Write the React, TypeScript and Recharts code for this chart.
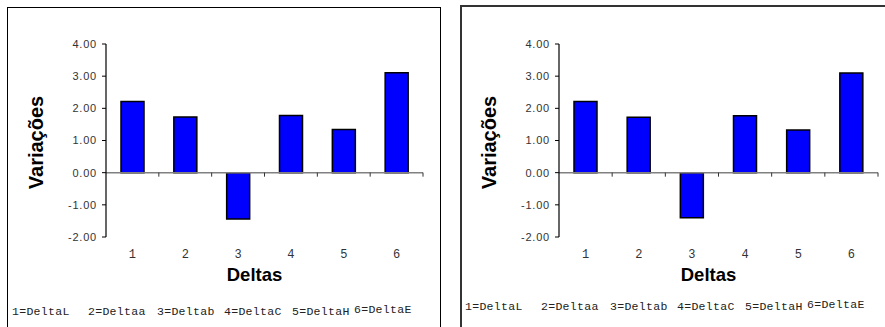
import { BarChart, Bar, XAxis, YAxis, ReferenceLine } from "recharts";

const categories = ["1", "2", "3", "4", "5", "6"];
const leftValues = [2.21, 1.73, -1.44, 1.78, 1.34, 3.11];
const rightValues = [2.21, 1.72, -1.4, 1.77, 1.33, 3.1];
const yTicks = [-2, -1, 0, 1, 2, 3, 4];
const footerLabels = ["1=DeltaL", "2=Deltaa", "3=Deltab", "4=DeltaC", "5=DeltaH", "6=DeltaE"];

const MONO = "'Liberation Mono', 'Courier New', monospace";
const SANS = "'Liberation Sans', Arial, sans-serif";

// offsets of each footer entry from the frame's left edge
const footerX = [5, 81, 150, 217, 285, 347];

function ZeroAxis(props: any) {
  const { x1, y1, x2 } = props;
  const n = categories.length;
  const step = (x2 - x1) / n;
  return (
    <g>
      <line x1={x1} y1={y1} x2={x2} y2={y1} stroke="#808080" strokeWidth={1.5} />
      {categories.map((_, i) => (
        <line key={i} x1={x1 + step * (i + 1)} y1={y1} x2={x1 + step * (i + 1)} y2={y1 + 4} stroke="#333" strokeWidth={1} />
      ))}
    </g>
  );
}

function YTitle(props: any) {
  const { viewBox } = props;
  const x = viewBox.x + viewBox.width - 70;
  const y = viewBox.y + viewBox.height / 2 + 2;
  return (
    <text x={x} y={y} transform={`rotate(-90, ${x}, ${y})`} textAnchor="middle" dominantBaseline="central" fontFamily={SANS} fontWeight="bold" fontSize={20} fill="#000">
      Variações
    </text>
  );
}

interface PanelProps {
  values: number[];
  left: number;
  width: number;
  marginLeft: number;
  marginRight: number;
  frame: { left: number; top: number; width: number; border: string };
  footerTop: number;
}

function Panel({ values, left, width, marginLeft, marginRight, frame, footerTop }: PanelProps) {
  const data = categories.map((c, i) => ({ name: c, value: values[i] }));
  return (
    <>
      <div
        style={{
          position: "absolute",
          left: frame.left,
          top: frame.top,
          width: frame.width,
          height: 400,
          border: frame.border,
          boxSizing: "border-box",
        }}
      />
      <div style={{ position: "absolute", left, top: 0 }}>
        <BarChart width={width} height={327} data={data} margin={{ top: 44, right: marginRight, left: marginLeft, bottom: 60 }}>
          <YAxis
            width={80}
            domain={[-2, 4]}
            ticks={yTicks}
            tickFormatter={(v: number) => v.toFixed(2)}
            axisLine={{ stroke: "#000", strokeWidth: 1.2 }}
            tickLine={{ stroke: "#000" }}
            tickSize={4}
            tickMargin={5}
            tick={{ fontFamily: SANS, fontSize: 11, fill: "#333", letterSpacing: 0.8 }}
            label={<YTitle />}
          />
          <XAxis
            dataKey="name"
            height={30}
            axisLine={false}
            tickLine={false}
            tickSize={0}
            tickMargin={12}
            tick={{ fontFamily: MONO, fontSize: 12, fill: "#333" }}
            label={{ value: "Deltas", position: "bottom", offset: 1, dx: -10, fontFamily: SANS, fontWeight: "bold", fontSize: 18.5, fill: "#000" }}
          />
          <Bar dataKey="value" fill="#0000FF" stroke="#000" strokeWidth={1.5} barSize={23} isAnimationActive={false} />
          <ReferenceLine y={0} shape={ZeroAxis} />
        </BarChart>
      </div>
      {footerLabels.map((t, i) => (
        <span
          key={t}
          style={{
            position: "absolute",
            left: frame.left + footerX[i],
            top: footerTop - (i === footerLabels.length - 1 ? 2 : 0),
            fontFamily: MONO,
            fontSize: 11.5,
            letterSpacing: 0.3,
            color: "#222",
            whiteSpace: "nowrap",
            lineHeight: "12px",
          }}
        >
          {t}
        </span>
      ))}
    </>
  );
}

export default function App() {
  return (
    <div style={{ position: "absolute", left: 0, top: 0, width: 885, height: 327, overflow: "hidden", background: "#fff" }}>
      <Panel
        values={leftValues}
        left={0}
        width={445}
        marginLeft={26}
        marginRight={22}
        frame={{ left: 7, top: 7, width: 434, border: "1px solid #000" }}
        footerTop={306}
      />
      <Panel
        values={rightValues}
        left={445}
        width={440}
        marginLeft={34}
        marginRight={7}
        frame={{ left: 460, top: 5, width: 500, border: "2px solid #333" }}
        footerTop={301}
      />
    </div>
  );
}
